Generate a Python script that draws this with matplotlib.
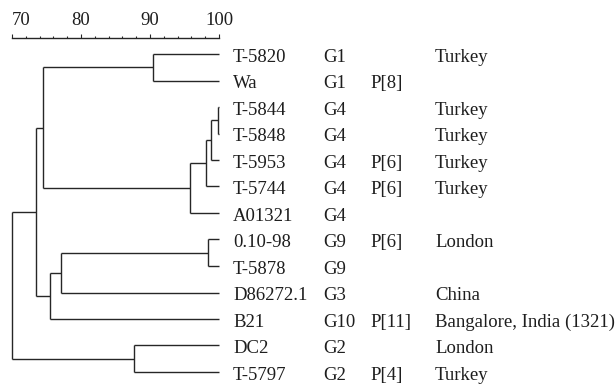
import matplotlib
matplotlib.use("Agg")
import matplotlib.pyplot as plt
import numpy as np

# ---------------- data ----------------
leaves = ["T-5820", "Wa", "T-5844", "T-5848", "T-5953", "T-5744", "A01321",
          "0.10-98", "T-5878", "D86272.1", "B21", "DC2", "T-5797"]
genotypes = ["G1", "G1", "G4", "G4", "G4", "G4", "G4",
             "G9", "G9", "G3", "G10", "G2", "G2"]
p_types = ["", "P[8]", "", "", "P[6]", "P[6]", "",
           "P[6]", "", "", "P[11]", "", "P[4]"]
origins = ["Turkey", "", "Turkey", "Turkey", "Turkey", "Turkey", "",
           "London", "", "China", "Bangalore, India (1321)", "London", "Turkey"]

# merges: (left child, right child, similarity %) ; node ids n0, n1, ...
merges = [
    ("T-5820", "Wa", 90.5),        # n0
    ("T-5844", "T-5848", 99.8),    # n1
    ("n1", "T-5953", 98.8),        # n2
    ("n2", "T-5744", 98.1),        # n3
    ("n3", "A01321", 95.8),        # n4
    ("n0", "n4", 74.5),            # n5
    ("0.10-98", "T-5878", 98.4),   # n6
    ("n6", "D86272.1", 77.1),      # n7
    ("n7", "B21", 75.5),           # n8
    ("n5", "n8", 73.5),            # n9
    ("DC2", "T-5797", 87.7),       # n10
    ("n9", "n10", 70.0),           # n11
]
scale_major = [70, 80, 90, 100]

# ---------------- layout ----------------
W, H = 615, 386
px_per_unit = 6.9
x0_px = 12.0          # pixel of 70
row0_px, row_h = 54.0, 26.5
bar_px = 37.5

plt.rcParams['font.family'] = ['Liberation Serif', 'DejaVu Serif']
fig = plt.figure(figsize=(W / 100, H / 100), dpi=100)
ax = fig.add_axes([0, 0, 1, (H - bar_px) / H])
ax.set_xlim(70 - x0_px / px_per_unit, 70 + (W - x0_px) / px_per_unit)
ax.set_ylim((H - row0_px) / row_h, (bar_px - row0_px) / row_h)

lc = '#262626'
lw = 1.0
pos = {name: (100.0, i) for i, name in enumerate(leaves)}
for k, (a, b, h) in enumerate(merges):
    xa, ya = pos[a]
    xb, yb = pos[b]
    ax.plot([h, h], [ya, yb], color=lc, lw=lw, solid_capstyle='butt')
    ax.plot([h, xa], [ya, ya], color=lc, lw=lw, solid_capstyle='butt')
    ax.plot([h, xb], [yb, yb], color=lc, lw=lw, solid_capstyle='butt')
    pos["n%d" % k] = (h, (ya + yb) / 2)

# text columns
col_name = 70 + (233 - x0_px) / px_per_unit
col_g = 70 + (323 - x0_px) / px_per_unit
col_p = 70 + (370 - x0_px) / px_per_unit
col_o = 70 + (435 - x0_px) / px_per_unit
dy = 0.30
fs = 13.5
tc = '#1e1e1e'
for i in range(len(leaves)):
    for col, txt in ((col_name, leaves[i]), (col_g, genotypes[i]),
                     (col_p, p_types[i]), (col_o, origins[i])):
        if txt:
            ax.text(col, i + dy, txt, fontsize=fs, color=tc,
                    va='baseline', ha='left', clip_on=False)

# scale bar as top axis
for s in ['left', 'right', 'bottom']:
    ax.spines[s].set_visible(False)
ax.spines['top'].set_bounds(scale_major[0], scale_major[-1])
ax.spines['top'].set_color(lc)
ax.spines['top'].set_linewidth(1.0)
ax.set_yticks([])
ax.set_xticks(scale_major)
ax.set_xticks(np.arange(scale_major[0], scale_major[-1] + 1, 2), minor=True)
ax.xaxis.set_ticks_position('top')
ax.tick_params(axis='x', which='major', top=True, bottom=False,
               labeltop=True, labelbottom=False, direction='out',
               length=3, width=0.8, pad=3, labelsize=13.5, colors=lc,
               labelcolor=tc)
ax.tick_params(axis='x', which='minor', top=True, bottom=False,
               direction='out', length=1.6, width=0.8, colors=lc)
labels = ax.get_xticklabels()
labels[0].set_horizontalalignment('left')

fig.savefig("out.png", dpi=100)
